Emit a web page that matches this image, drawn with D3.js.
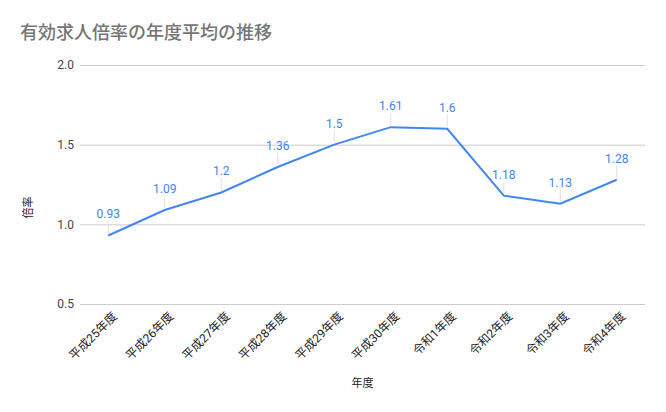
<!DOCTYPE html>
<html lang="ja">
<head>
<meta charset="utf-8">
<script src="https://d3js.org/d3.v7.min.js"></script>
<style>
  body { margin: 0; background: #fff; font-family: Roboto, "Noto Sans CJK JP", sans-serif; }
</style>
</head>
<body>
<div id="chart"></div>
<script>
// data
var categories = ["平成25年度", "平成26年度", "平成27年度", "平成28年度", "平成29年度",
                  "平成30年度", "令和1年度", "令和2年度", "令和3年度", "令和4年度"];
var values = [0.93, 1.09, 1.2, 1.36, 1.5, 1.61, 1.6, 1.18, 1.13, 1.28];
var yTicks = [0.5, 1.0, 1.5, 2.0];

// plot area (pixels)
var plot = { left: 80, right: 645, top: 65, bottom: 304 };
var W = 666, H = 412;

var svg = d3.select("#chart").append("svg")
    .attr("width", W)
    .attr("height", H);

var x = d3.scalePoint()
    .domain(categories)
    .range([plot.left, plot.right])
    .padding(0.5);

var y = d3.scaleLinear()
    .domain([0.5, 2.0])
    .range([plot.bottom, plot.top]);

// title
svg.append("text")
    .attr("x", 20)
    .attr("y", 39)
    .style("font-family", "'Noto Sans CJK JP', sans-serif")
    .style("font-size", "18px")
    .style("font-weight", "500")
    .style("fill", "#757575")
    .text("有効求人倍率の年度平均の推移");

// gridlines + y ticks
var yAxis = svg.append("g")
    .attr("transform", "translate(" + plot.left + ",0)")
    .call(d3.axisLeft(y).tickValues(yTicks).tickFormat(d3.format(".1f"))
        .tickSize(-(plot.right - plot.left)).tickPadding(6));
yAxis.select(".domain").remove();
yAxis.selectAll("line").attr("stroke", "#cccccc");
yAxis.selectAll("text")
    .style("font-family", "Roboto, sans-serif")
    .style("font-size", "12px")
    .style("fill", "#444");

// x labels
var xAxis = svg.append("g")
    .attr("transform", "translate(0," + plot.bottom + ")")
    .call(d3.axisBottom(x).tickSize(0).tickPadding(0));
xAxis.select(".domain").remove();
xAxis.selectAll("text")
    .attr("transform", "translate(6,10) rotate(-45)")
    .attr("dy", "0.35em")
    .attr("x", 0).attr("y", 0)
    .style("text-anchor", "end")
    .style("font-family", "Roboto, 'Noto Sans CJK JP', sans-serif")
    .style("font-size", "12px")
    .style("fill", "#222");

// axis titles
svg.append("text")
    .attr("x", (plot.left + plot.right) / 2)
    .attr("y", 387)
    .attr("text-anchor", "middle")
    .style("font-family", "'Noto Sans CJK JP', sans-serif")
    .style("font-size", "11px")
    .style("fill", "#222")
    .text("年度");

svg.append("text")
    .attr("transform", "translate(32," + ((plot.top + plot.bottom) / 2 + 23) + ") rotate(-90)")
    .attr("text-anchor", "middle")
    .style("font-family", "'Noto Sans CJK JP', sans-serif")
    .style("font-size", "11px")
    .style("fill", "#222")
    .text("倍率");

// leader lines
svg.append("g").selectAll("line")
    .data(values)
    .join("line")
    .attr("x1", function(d, i) { return x(categories[i]); })
    .attr("x2", function(d, i) { return x(categories[i]); })
    .attr("y1", function(d) { return y(d) - 2; })
    .attr("y2", function(d) { return y(d) - 14; })
    .attr("stroke", "#e0e0e0")
    .attr("stroke-width", 1);

// line
var line = d3.line()
    .x(function(d, i) { return x(categories[i]); })
    .y(function(d) { return y(d); });

svg.append("path")
    .datum(values)
    .attr("d", line)
    .attr("fill", "none")
    .attr("stroke", "#4285f4")
    .attr("stroke-width", 2);

// data labels
svg.append("g").selectAll("text")
    .data(values)
    .join("text")
    .attr("x", function(d, i) { return x(categories[i]); })
    .attr("y", function(d) { return y(d) - 17; })
    .attr("text-anchor", "middle")
    .style("font-family", "Roboto, sans-serif")
    .style("font-size", "12px")
    .style("fill", "#4285f4")
    .text(function(d) { return d; });
</script>
</body>
</html>
